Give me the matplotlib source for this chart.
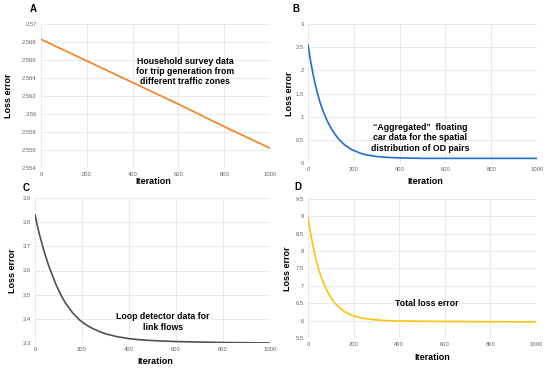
import matplotlib
matplotlib.use("Agg")
import matplotlib.pyplot as plt

plt.rcParams["font.family"] = ["Liberation Sans", "DejaVu Sans"]

# 값은 그림에서 눈으로 읽은 근사치
iter_a = [0, 200, 400, 600, 800, 1000]
loss_a = [2.5683, 2.5659, 2.5635, 2.5611, 2.5586, 2.5562]

iter_dec = [0, 10, 20, 30, 40, 50, 60, 70, 80, 90, 100, 115, 130, 145, 160, 175, 190, 210,
            230, 250, 275, 300, 350, 400, 450, 500, 600, 700, 800, 900, 1000]
loss_b = [2.55, 2.24, 1.97, 1.73, 1.53, 1.35, 1.20, 1.07, 0.95, 0.85, 0.76, 0.64, 0.54,
          0.46, 0.39, 0.34, 0.29, 0.25, 0.21, 0.18, 0.16, 0.14, 0.12, 0.11, 0.105, 0.10,
          0.10, 0.10, 0.10, 0.10, 0.10]
loss_c = [3.83, 3.785, 3.745, 3.71, 3.675, 3.645, 3.615, 3.59, 3.565, 3.54, 3.52, 3.49,
          3.465, 3.445, 3.425, 3.41, 3.395, 3.38, 3.368, 3.358, 3.347, 3.338, 3.326, 3.318,
          3.313, 3.310, 3.306, 3.304, 3.302, 3.301, 3.300]
loss_d = [8.97, 8.56, 8.21, 7.90, 7.64, 7.41, 7.22, 7.05, 6.90, 6.78, 6.67, 6.53, 6.42,
          6.34, 6.26, 6.21, 6.16, 6.12, 6.08, 6.06, 6.035, 6.02, 6.00, 5.99, 5.985,
          5.98, 5.975, 5.972, 5.969, 5.967, 5.965]

x_ticks = [0, 200, 400, 600, 800, 1000]
yticks_a = [2.554, 2.556, 2.558, 2.56, 2.562, 2.564, 2.566, 2.568, 2.57]
yticks_b = [0, 0.5, 1, 1.5, 2, 2.5, 3]
yticks_c = [3.3, 3.4, 3.5, 3.6, 3.7, 3.8, 3.9]
yticks_d = [5.5, 6, 6.5, 7, 7.5, 8, 8.5, 9, 9.5]

PX_W, PX_H = 550, 368


def rect(l, t, r, b):
    return [l / PX_W, 1 - b / PX_H, (r - l) / PX_W, (b - t) / PX_H]


fig = plt.figure(figsize=(5.5, 3.68), dpi=100)

panels = [
    ("A", rect(41, 24, 270, 168), iter_a, loss_a, "#f5821f", yticks_a,
     "Household survey data\nfor trip generation from\ndifferent traffic zones", (0.63, 0.67)),
    ("B", rect(308, 24, 537, 163), iter_dec, loss_b, "#1f6fd0", yticks_b,
     "\u201cAggregated\u201d  floating\ncar data for the spatial\ndistribution of OD pairs", (0.49, 0.18)),
    ("C", rect(35, 198, 270, 343), iter_dec, loss_c, "#505050", yticks_c,
     "Loop detector data for\nlink flows", (0.545, 0.145)),
    ("D", rect(308, 199, 536, 338), iter_dec, loss_d, "#ffc20e", yticks_d,
     "Total loss error", (0.52, 0.245)),
]

label_pos = {"A": (33, 9), "B": (296, 9), "C": (26, 188), "D": (298, 187)}
ylabel_x = {"A": 9, "B": 290, "C": 13, "D": 288}
xlabel_pos = {"A": (153, 181), "B": (425, 181), "C": (155, 361), "D": (432, 357)}

for name, pos, xs, ys, color, yticks, note, note_xy in panels:
    ax = fig.add_axes(pos)
    ax.plot(xs, ys, color=color, linewidth=1.2)
    ax.set_xlim(0, 1000)
    ax.set_ylim(yticks[0], yticks[-1])
    ax.set_xticks(x_ticks)
    ax.set_yticks(yticks)
    ax.set_yticklabels([f"{v:g}" for v in yticks])
    ax.tick_params(length=0, labelsize=4.2, labelcolor="#666666", pad=3)
    ax.grid(True, color="#e6e6e6", linewidth=0.6)
    for s in ax.spines.values():
        s.set_visible(False)
    ax.text(*note_xy, note, transform=ax.transAxes, ha="center", va="center",
            fontsize=6.3, fontweight="bold", linespacing=1.15)

    lx, ly = label_pos[name]
    fig.text(lx / PX_W, 1 - ly / PX_H, name, fontsize=7, fontweight="bold",
             ha="center", va="center")
    fig.text(ylabel_x[name] / PX_W, pos[1] + pos[3] / 2, "Loss error", rotation=90,
             fontsize=6.5, fontweight="bold", ha="center", va="center")
    xx, xy = xlabel_pos[name]
    fig.text(xx / PX_W, 1 - xy / PX_H, "Iteration", fontsize=6.5, fontweight="bold",
             ha="center", va="center")

fig.savefig("out.png", dpi=100)
